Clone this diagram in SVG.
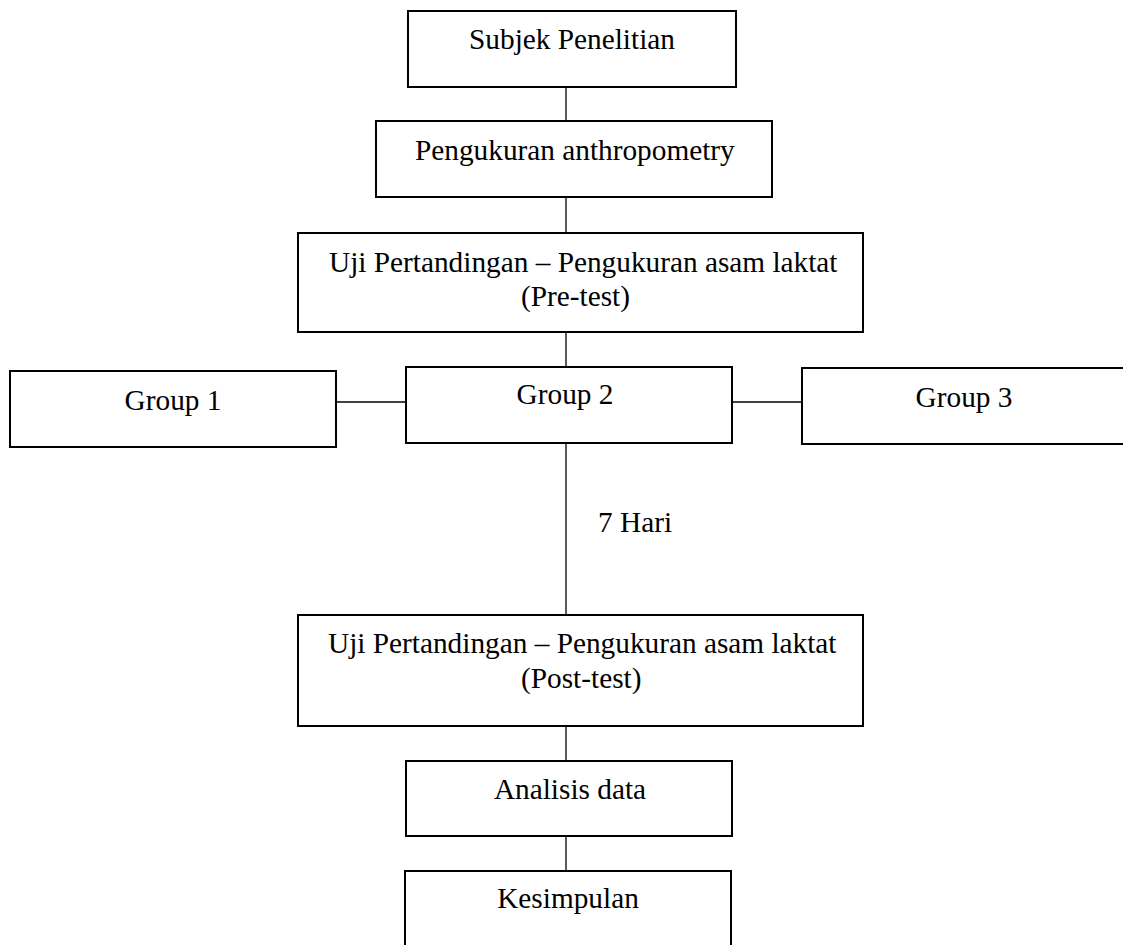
<svg xmlns="http://www.w3.org/2000/svg" width="1123" height="945" viewBox="0 0 1123 945">
<style>
.box{fill:#fff;stroke:#000;stroke-width:2}
.con{stroke:#000;stroke-width:1.3;fill:none}
text{font-family:"Liberation Serif","Times New Roman",serif;font-size:29.3px;fill:#000}
.c{text-anchor:middle}
</style>
<rect width="1123" height="945" fill="#fff"/>
<g id="connectors">
<line class="con" x1="566" y1="87" x2="566" y2="121"/>
<line class="con" x1="566" y1="197" x2="566" y2="233"/>
<line class="con" x1="566" y1="332" x2="566" y2="367"/>
<line class="con" x1="336" y1="402" x2="406" y2="402"/>
<line class="con" x1="732" y1="402" x2="802" y2="402"/>
<line class="con" x1="566" y1="443" x2="566" y2="615"/>
<line class="con" x1="566" y1="726" x2="566" y2="761"/>
<line class="con" x1="566" y1="836" x2="566" y2="871"/>
<text x="598" y="532">7 Hari</text>
</g>
<g id="subjek">
<rect class="box" x="408" y="11" width="328" height="76"/>
<text class="c" x="572" y="49">Subjek Penelitian</text>
</g>
<g id="anthropometry">
<rect class="box" x="376" y="121" width="396" height="76"/>
<text x="415" y="160">Pengukuran anthropometry</text>
</g>
<g id="pretest">
<rect class="box" x="298" y="233" width="565" height="99"/>
<text x="329" y="272">Uji Pertandingan – Pengukuran asam laktat</text>
<text x="521" y="306">(Pre-test)</text>
</g>
<g id="group1">
<rect class="box" x="10" y="371" width="326" height="76"/>
<text class="c" x="173" y="410">Group 1</text>
</g>
<g id="group2">
<rect class="box" x="406" y="367" width="326" height="76"/>
<text class="c" x="565" y="404">Group 2</text>
</g>
<g id="group3">
<rect class="box" x="802" y="368" width="340" height="76"/>
<text class="c" x="964" y="407">Group 3</text>
</g>
<g id="posttest">
<rect class="box" x="298" y="615" width="565" height="111"/>
<text x="328" y="653">Uji Pertandingan – Pengukuran asam laktat</text>
<text x="521" y="688">(Post-test)</text>
</g>
<g id="analisis">
<rect class="box" x="406" y="761" width="326" height="75"/>
<text class="c" x="570" y="799">Analisis data</text>
</g>
<g id="kesimpulan">
<rect class="box" x="405" y="871" width="326" height="90"/>
<text class="c" x="568" y="908">Kesimpulan</text>
</g>
</svg>
